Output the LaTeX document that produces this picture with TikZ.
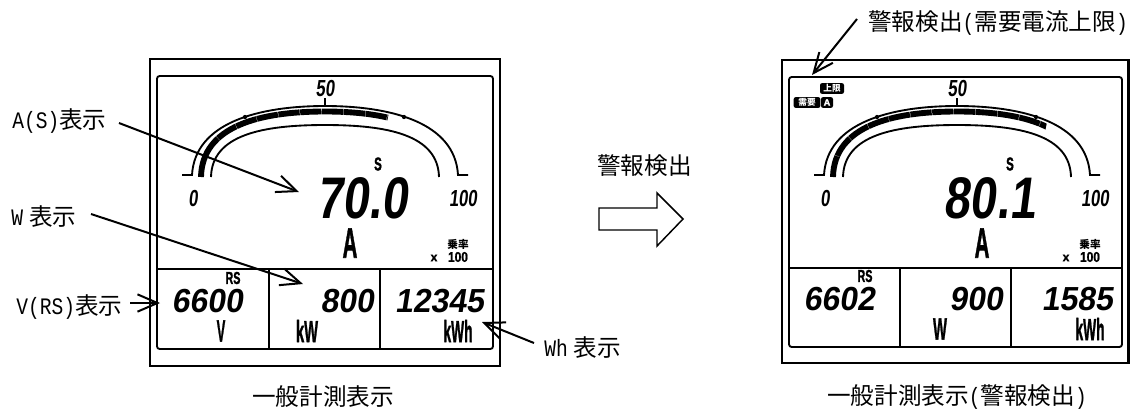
\documentclass[tikz,border=0pt]{standalone}
\usepackage{fontspec}
\usepackage{graphicx}
\usetikzlibrary{arrows.meta}
\setmainfont{Liberation Sans}
\newfontfamily\jpfont{Noto Sans CJK JP}
\newfontfamily\monof[FakeStretch=0.83]{Liberation Mono}
\newfontfamily\heavyf[FakeBold=1.5]{Liberation Sans Bold}
\newfontfamily\digf[FakeSlant=0.16]{Liberation Sans Bold}
\newcommand{\fs}[1]{\fontsize{#1}{#1}\selectfont}
\newcommand{\sq}[2]{\scalebox{#1}[1]{#2}}
\tikzset{
  x=0.75pt,y=-0.75pt,
  frame/.style={line width=1.7pt,draw=black},
  cell/.style={line width=1.4pt,draw=black},
  gaugeline/.style={line width=1.4pt,draw=black},
  callout/.style={line width=1.5pt,draw=black,-{Straight Barb[length=15pt,width=13pt,line width=1.5pt]}},
  label/.style={font=\jpfont\fs{17.7},inner sep=0pt},
  seg/.style={inner sep=0pt,text=black},
  unit/.style={inner sep=0pt,text=black},
  badge/.style={inner sep=0pt,fill=black,text=white,rounded corners=1.5pt,font=\jpfont\bfseries\fs{6.5}},
}
% #1 origin x, #2 big value, #3 #4 #5 small values, #6 bar end x, #7 bar end y, #8 extras
% \Otop \Itop \Div \Ibot \Obot \Dy \Bigx \Ra \Rb \Ow \Ir \Ca \Cb vary per panel
\newcommand{\meter}[8]{%
 \begin{scope}[shift={(#1,0)}]
  \draw[frame] (0,\Otop) rectangle (\Ow,\Obot);
  \draw[cell,rounded corners=2pt] (7,\Itop) rectangle (\Ir,\Ibot);
  \draw[cell] (7,\Div) -- (\Ir,\Div);
  \draw[cell] (\Ca,\Div) -- (\Ca,\Ibot);
  \draw[cell] (\Cb,\Div) -- (\Cb,\Ibot);
  % gauge
  \draw[gaugeline] (32,175) -- (42,175) .. controls (45,122) and (110,106) .. (175,106)
     .. controls (240,106) and (305,122) .. (308,175) -- (318,175);
  \draw[gaugeline] (61,177) .. controls (62,135) and (112,125) .. (175,125)
     .. controls (238,125) and (288,135) .. (289,177);
  \begin{scope}
   \clip (20,60) -- (#6+4,#7-20) -- (#6-4,#7+20) -- (#6-4,200) -- (20,200) -- cycle;
   \draw[line width=4.4pt,dash pattern=on 16pt off .4pt] (51,177) .. controls (52,126) and (110,111.5) .. (175,111.5)
     .. controls (240,111.5) and (298,126) .. (299,177);
  \end{scope}
  \draw[line width=2pt] (175,98) -- (175,106);
  \fill (95,117) circle (1.6pt);
  \fill (254,117) circle (1.6pt);
  \node[seg,font=\digf\fs{17.4}] at (175,89) {\sq{.72}{50}};
  \node[seg,font=\digf\fs{17.4}] at (43,199) {\sq{.72}{0}};
  \node[seg,font=\digf\fs{17.4}] at (313,199) {\sq{.72}{100}};
  \node[unit,font=\heavyf\fs{14}] at (228,164) {\sq{.62}{S}};
  \node[seg,font=\digf\fs{44}] at (\Bigx,198) {\sq{.8}{#2}};
  \node[unit,font=\heavyf\fs{32}] at (200,243) {\sq{.48}{A}};
  \node[unit,font=\heavyf\fs{9}] at (284,258) {x};
  \node[unit,font=\jpfont\bfseries\fs{8}] at (308,244) {乗率};
  \node[unit,font=\heavyf\fs{10.5}] at (308,257) {\sq{.85}{100}};
  \node[unit,font=\heavyf\fs{13}] at (83,278+\Dy) {\sq{.62}{RS}};
  \node[seg,font=\digf\fs{25},anchor=east] at (93,301+\Dy) {\sq{.96}{#3}};
  \node[seg,font=\digf\fs{25},anchor=east] at (\Ra,301+\Dy) {\sq{.96}{#4}};
  \node[seg,font=\digf\fs{25},anchor=east] at (\Rb,301+\Dy) {\sq{.96}{#5}};
  #8
  \node[unit,font=\heavyf\fs{23}] at (308,331+\Dy) {\sq{.45}{kWh}};
 \end{scope}}
\begin{document}
\begin{tikzpicture}
\useasboundingbox (0,0) rectangle (1130,408);
\fill[white] (0,0) rectangle (1130,408);
\def\Otop{59}\def\Itop{76}\def\Div{269}\def\Ibot{349}\def\Obot{366}\def\Dy{0}\def\Bigx{212}\def\Ra{224}\def\Rb{334}\def\Ow{350}\def\Ir{343}\def\Ca{119}\def\Cb{230}
\meter{150}{70.0}{6600}{800}{12345}{237}{122}{%
  \node[unit,font=\heavyf\fs{23}] at (71,331) {\sq{.42}{V}};
  \node[unit,font=\heavyf\fs{23}] at (157,331) {\sq{.48}{kW}};}
\def\Otop{60}\def\Itop{77}\def\Div{268}\def\Ibot{347}\def\Obot{363}\def\Dy{-2}\def\Bigx{207.5}\def\Ra{221}\def\Rb{331}\def\Ow{346.5}\def\Ir{340}\def\Ca{118}\def\Cb{229}
\meter{782}{80.1}{6602}{900}{1585}{263}{132}{%
  \node[unit,font=\heavyf\fs{23}] at (158,329) {\sq{.48}{W}};
  \node[badge,minimum width=18pt,minimum height=8pt] at (50,88.5) {上限};
  \node[badge,minimum width=20pt,minimum height=8pt] at (25,102.5) {需要};
  \node[badge,minimum width=9pt,minimum height=8pt,font=\heavyf\fs{7}] at (45,102.5) {A};}

\coordinate (tA) at (119,123);
\coordinate (hA) at (299,192);
\draw[callout] (tA) -- (hA);
\coordinate (tW) at (91,214);
\coordinate (hW) at (303,284);
\draw[callout] (tW) -- (hW);
\coordinate (tV) at (130,303);
\coordinate (hV) at (160,303);
\draw[callout] (tV) -- (hV);
\coordinate (tWh) at (534,343);
\coordinate (hWh) at (482,322);
\draw[callout] (tWh) -- (hWh);
\coordinate (tE) at (857,19);
\coordinate (hE) at (812,75);
\draw[callout] (tE) -- (hE);

\node[label,anchor=west] (lA) at (12,121) {{\monof A(S)}表示};
\node[label,anchor=west] (lW) at (11,217) {{\monof W}\hspace{4.5pt}表示};
\node[label,anchor=west] (lV) at (16,307) {{\monof V(RS)}表示};
\node[label,anchor=west] (lWh) at (544,348) {{\monof Wh}\hspace{4.5pt}表示};
\node[label,anchor=west] (lE) at (868,23) {警報検出{\monof (}需要電流上限{\monof )}};
\node[label] (lD) at (644.5,166) {警報検出};
\node[label] (c1) at (323,397) {一般計測表示};
\node[label] (c2) at (957,397) {一般計測表示{\monof (}警報検出{\monof )}};
\draw[line width=1.1pt] (599,208) -- (657,208) -- (657,193) -- (683,219) -- (657,246) -- (657,230) -- (599,230) -- cycle;
\end{tikzpicture}
\end{document}
